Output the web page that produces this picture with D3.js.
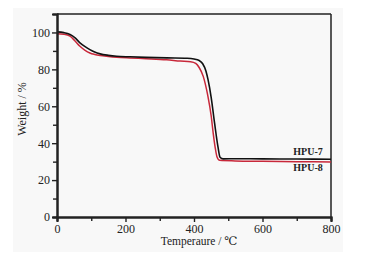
<!DOCTYPE html>
<html>
<head>
<meta charset="utf-8">
<script src="https://cdn.jsdelivr.net/npm/d3@7"></script>
<style>
  body { margin: 0; background: #fff; }
  svg text { font-family: "Liberation Serif", "DejaVu Serif", serif; fill: #222; }
</style>
</head>
<body>
<svg id="chart" width="368" height="260"></svg>
<script>
// TGA curves: [temperature, weight %]
const hpu7 = [[0,100.3],[20,99.9],[38,98.9],[52,97.2],[67,94.4],[82,92.3],[96,90.7],[110,89.4],[126,88.4],[150,87.6],[174,87.1],[213,86.8],[260,86.5],[320,86.2],[380,86],[400,85.6],[415,84.8],[425,83.2],[435,79],[441,74.4],[450,65],[460,51],[470,38],[476,32.4],[485,31.5],[520,31.6],[600,31.5],[700,31.4],[800,31.3]];
const hpu8 = [[0,99.3],[20,99],[38,98],[52,95.5],[67,92.5],[82,90.3],[96,88.9],[110,88.1],[126,87.5],[150,87],[174,86.6],[213,86.2],[260,85.8],[320,85.2],[360,84.5],[390,84.1],[405,83.2],[415,81],[427,76.2],[440,66],[450,55],[456,45.5],[462,37.5],[467,32.7],[475,30.7],[520,30.4],[600,30.2],[700,30],[800,29.8]];
const seriesNames = ["HPU-7", "HPU-8"];
const xTicks = [0, 200, 400, 600, 800];
const yTicks = [0, 20, 40, 60, 80, 100];

const svg = d3.select("#chart");
const x0 = 57, x1 = 331, yTop = 14, yBot = 217;

// faint grey background of the scanned figure
svg.append("rect")
    .attr("x", 13).attr("y", 8)
    .attr("width", 330).attr("height", 244)
    .attr("fill", "#f8f8f8");

const x = d3.scaleLinear().domain([0, 800]).range([x0, x1]);
const y = d3.scaleLinear().domain([0, 110]).range([yBot, yTop]);

// frame: top and right thinner
svg.append("line").attr("x1", x0).attr("x2", x1).attr("y1", yTop).attr("y2", yTop)
    .attr("stroke", "#222").attr("stroke-width", 1.5);
svg.append("line").attr("x1", x1).attr("x2", x1).attr("y1", yTop).attr("y2", yBot)
    .attr("stroke", "#222").attr("stroke-width", 1.5);

const line = d3.line()
    .x(d => x(d[0]))
    .y(d => y(d[1]))
    .curve(d3.curveMonotoneX);

svg.append("path").datum(hpu8)
    .attr("d", line)
    .attr("fill", "none")
    .attr("stroke", "#c8283a")
    .attr("stroke-width", 1.5);

svg.append("path").datum(hpu7)
    .attr("d", line)
    .attr("fill", "none")
    .attr("stroke", "#111")
    .attr("stroke-width", 1.6);

// minor ticks
const xAxisMinor = d3.axisBottom(x).tickValues(d3.range(100, 800, 200)).tickSize(4).tickFormat("");
const yAxisMinor = d3.axisLeft(y).tickValues(d3.range(10, 110, 20)).tickSize(4).tickFormat("");
svg.append("g").attr("transform", `translate(0,${yBot})`).call(xAxisMinor);
svg.append("g").attr("transform", `translate(${x0},0)`).call(yAxisMinor);

const xAxis = d3.axisBottom(x).tickValues(xTicks).tickSize(5).tickPadding(2);
const yAxis = d3.axisLeft(y).tickValues(yTicks).tickSize(5).tickPadding(2);
svg.append("g").attr("class", "ax").attr("transform", `translate(0,${yBot})`).call(xAxis);
svg.append("g").attr("class", "ax").attr("transform", `translate(${x0},0)`).call(yAxis);

svg.selectAll("g .domain").attr("stroke", "#222").attr("stroke-width", 2);
svg.selectAll("g .tick line").attr("stroke", "#222").attr("stroke-width", 1.4);
svg.selectAll("g.ax .tick text")
    .attr("font-family", "Liberation Serif, serif")
    .attr("font-size", 12)
    .attr("fill", "#222");

// axis titles
svg.append("text")
    .attr("x", 199).attr("y", 245)
    .attr("text-anchor", "middle")
    .attr("font-size", 11.5)
    .text("Temperaure / ℃");

svg.append("text")
    .attr("transform", "translate(26,109) rotate(-90)")
    .attr("text-anchor", "middle")
    .attr("font-size", 12)
    .text("Weight / %");

// series labels
const lastVals = [hpu7[hpu7.length - 1][1], hpu8[hpu8.length - 1][1]];
svg.append("text")
    .attr("x", x(776)).attr("y", y(lastVals[0]) - 4)
    .attr("text-anchor", "end")
    .attr("font-size", 10).attr("font-weight", "bold")
    .text(seriesNames[0]);
svg.append("text")
    .attr("x", x(776)).attr("y", y(lastVals[1]) + 9)
    .attr("text-anchor", "end")
    .attr("font-size", 10).attr("font-weight", "bold")
    .text(seriesNames[1]);
</script>
</body>
</html>
